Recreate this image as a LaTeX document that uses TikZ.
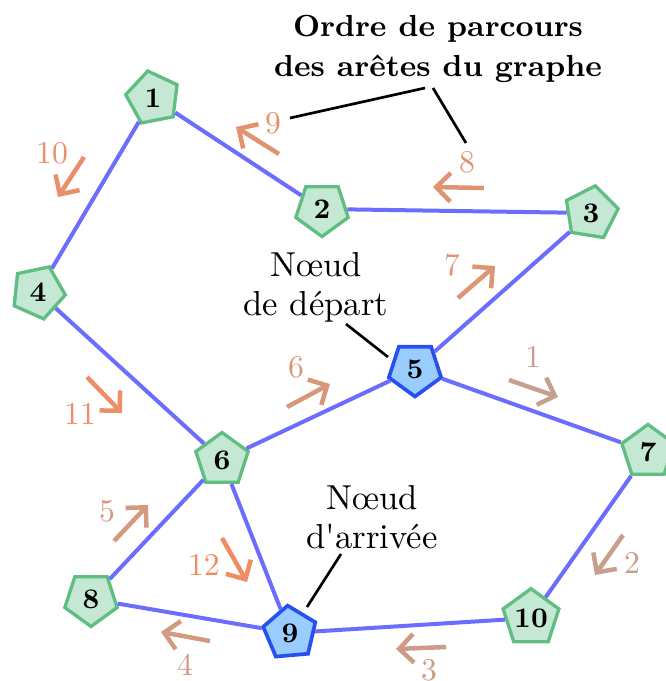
\documentclass[tikz,border=0pt]{standalone}
\usetikzlibrary{shapes.geometric,arrows.meta}
\definecolor{edgeblue}{RGB}{108,108,255}
\definecolor{gfill}{RGB}{197,232,212}
\definecolor{gdraw}{RGB}{96,190,130}
\definecolor{bfill}{RGB}{153,204,255}
\definecolor{bdraw}{RGB}{40,80,240}
\definecolor{ordA}{RGB}{198,160,142}
\definecolor{ordB}{RGB}{240,140,98}
\tikzset{
 vtx/.style={regular polygon, regular polygon sides=5, minimum size=16.5pt, inner sep=0pt,
   line width=1pt, draw=gdraw, fill=gfill, font=\fontsize{8.5}{10}\selectfont\bfseries},
 vstart/.style={vtx, draw=bdraw, fill=bfill, line width=1.1pt},
 edge/.style={draw=edgeblue, line width=1.2pt},
 ordarrow/.style={line width=1.35pt, -{Straight Barb[length=4.3pt,width=8.6pt]}},
 ordlabel/.style={font=\fontsize{9.5}{11}\selectfont, inner sep=0pt},
 callout/.style={font=\fontsize{10.4}{11.8}\selectfont, align=center, inner sep=0pt},
 title/.style={font=\fontsize{9.15}{12}\selectfont\bfseries, align=center, inner sep=0pt},
 pointer/.style={draw=black, line width=0.8pt}
}
\begin{document}
\begin{tikzpicture}[x=0.3pt,y=-0.3pt]
\useasboundingbox (0,0) rectangle (665,681);
% vertices
\node[vtx, shape border rotate=11]   (n1)  at (153,98)  {1};
\node[vtx, shape border rotate=180]  (n2)  at (322,209) {2};
\node[vtx, shape border rotate=-9]   (n3)  at (591,213) {3};
\node[vtx, shape border rotate=-24]  (n4)  at (38,292)  {4};
\node[vstart, shape border rotate=180] (n5) at (415,369) {5};
\node[vtx]                           (n6)  at (222,460) {6};
\node[vtx]                           (n7)  at (648,452) {7};
\node[vtx, shape border rotate=180]  (n8)  at (91,599)  {8};
\node[vstart, shape border rotate=5] (n9)  at (290,633) {9};
\node[vtx]                           (n10) at (531,618) {10};
% edges
\foreach \a/\b in {n1/n2,n2/n3,n1/n4,n3/n5,n4/n6,n5/n6,n5/n7,n6/n8,n6/n9,n8/n9,n9/n10,n7/n10}
  \draw[edge] (\a) -- (\b);
% traversal order arrows
\foreach \i/\sx/\sy/\ex/\ey/\lx/\ly in {
  1/509/380/558/397/533/357,
  2/623/535/595/575/632/563,
  3/446/647/396/649/429/670,
  4/210/641/161/632/185/665,
  5/114/541/148/505/107/511,
  6/287/407/330/384/296/367,
  7/458/298/495/266/452/265,
  8/484/188/433/187/467/162,
  9/279/154/236/127/273/123,
  10/84/157/58/197/52/153,
  11/87/377/122/413/80/414,
  12/222/538/247/582/204/565}{
  \pgfmathtruncatemacro\p{(\i-1)*100/11}
  \coordinate (o\i s) at (\sx,\sy);
  \coordinate (o\i e) at (\ex,\ey);
  \draw[ordarrow, draw=ordB!\p!ordA] (o\i s) -- (o\i e);
  \node[ordlabel, text=ordB!\p!ordA] (l\i) at (\lx,\ly) {\i};
}
% callouts
\node[title] (ordre) at (438,49) {Ordre de parcours\\des arêtes du graphe};
\coordinate (p1a) at (425,88);
\coordinate (p1b) at (290,118);
\coordinate (p2a) at (433,88);
\coordinate (p2b) at (466,143);
\draw[pointer] (p1a) -- (p1b);
\draw[pointer] (p2a) -- (p2b);
\node[callout] (depart) at (316,287) {Nœud\\de départ};
\coordinate (p3a) at (346,324);
\coordinate (p3b) at (388,357);
\draw[pointer] (p3a) -- (p3b);
\node[callout] (arrivee) at (372,517) {Nœud\\d\textquotesingle arrivée};
\coordinate (p4a) at (341,554);
\coordinate (p4b) at (307,607);
\draw[pointer] (p4a) -- (p4b);
\end{tikzpicture}
\end{document}
